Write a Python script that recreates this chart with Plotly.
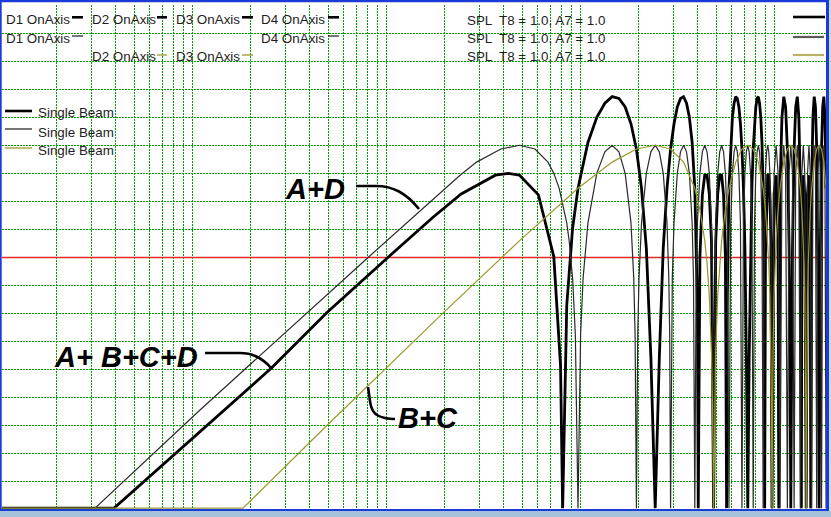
import math
import plotly.graph_objects as go

# ---------------- data (frequency in Hz, level in dB) ----------------
GRID_FREQ = [10, 15, 20, 25, 30, 35, 40, 45, 50,
             100, 150, 200, 250, 300, 350, 400, 450, 500,
             1000, 1500, 2000, 2500, 3000, 3500, 4000, 4500, 5000,
             10000, 15000, 20000, 25000, 30000, 35000, 40000, 45000, 50000]
GRID_DB = [54, 57, 60, 63, 66, 69, 72, 75, 78, 81, 84, 87, 90, 93, 96, 99, 102]
F_RANGE = [5.207, 92050]
DB_RANGE = [51, 105]
REF_DB = 78

# A+B+C+D (thick black)
THICK_F = [5.2, 19.7, 127.9, 245.7, 501.0, 867.7, 1212.5, 1818.8, 2121.9, 2425.0,
           3031.3, 3637.5, 3940.6, 4041.7, 4243.8, 4546.9, 4850.0,
           5456.3, 6062.5, 6668.8, 7275.0, 7881.3, 8487.5, 9093.8, 9700.0, 10306.3, 10912.5,
           11518.8, 12125.0, 12731.3, 13337.5, 13943.8, 14550.0, 15156.3, 15762.5, 16368.8,
           16975.0, 17581.3, 18187.5, 18793.8, 19400.0, 20006.3, 20208.3, 20612.5, 21218.8,
           21825.0, 22431.3, 23037.5, 23643.8, 24250.0, 24856.3, 25462.5, 26068.8, 26675.0,
           27281.3, 27887.5, 28291.7, 28493.8, 29100.0, 29706.3, 30312.5, 30918.8, 31525.0,
           32131.3, 32737.5, 33343.8, 33950.0, 34556.3, 35162.5, 35768.8, 36375.0, 36981.3,
           37587.5, 38193.8, 38800.0, 39406.3, 40012.5, 40618.8, 41225.0, 41831.3, 42437.5,
           43043.8, 43650.0, 44256.3, 44458.3, 44862.5, 45468.8, 46075.0, 46681.3, 47287.5,
           47893.8, 48500.0,
           49712.5, 50925.0, 52137.5, 52541.7, 53350.0, 54562.5, 55775.0, 56987.5, 58200.0,
           59412.5, 60018.8, 60625.0, 61231.3, 61837.5, 63050.0, 64262.5, 65475.0, 66687.5,
           67900.0, 68708.3, 69112.5, 70325.0, 71537.5, 72750.0, 73962.5, 75175.0, 76387.5,
           76791.7, 77600.0, 78812.5, 80025.0, 81237.5, 82450.0, 83662.5, 84268.8, 84875.0,
           85481.3, 86087.5, 87300.0, 88512.5, 89725.0, 90937.5, 92150.0]
THICK_DB = [51.2, 51.2, 66.2, 72.1, 77.9, 82.3, 84.8, 86.8, 87.0, 86.8,
            84.7, 78.1, 66.5, 51.2, 72.9, 81.1, 85.4,
            90.3, 93.0, 94.5, 95.2, 95.0, 94.1, 92.3, 89.6, 85.4, 79.0,
            67.3, 51.2, 67.3, 79.0, 85.4, 89.6, 92.3, 94.1, 95.0,
            95.2, 94.5, 93.0, 90.3, 85.4, 72.9, 51.2, 78.1, 84.7,
            86.8, 86.8, 84.8, 79.7, 51.2, 79.7, 84.8, 86.8, 86.8,
            84.7, 78.1, 51.2, 72.9, 85.4, 90.3, 93.0, 94.5, 95.2,
            95.0, 94.1, 92.3, 89.6, 85.4, 79.0, 67.3, 51.2, 67.3,
            79.0, 85.4, 89.6, 92.3, 94.1, 95.0, 95.2, 94.5, 93.0,
            90.3, 85.4, 72.9, 51.2, 78.1, 84.7, 86.8, 86.8, 84.8,
            79.7, 51.2,
            84.8, 86.8, 78.1, 51.2, 85.4, 93.0, 95.2, 94.1, 89.6,
            79.0, 67.3, 51.2, 67.3, 79.0, 89.6, 94.1, 95.2, 93.0,
            85.4, 51.2, 78.1, 86.8, 84.8, 51.2, 84.8, 86.8, 78.1,
            51.2, 85.4, 93.0, 95.2, 94.1, 89.6, 79.0, 67.3, 51.2,
            67.3, 79.0, 89.6, 94.1, 95.2, 93.0, 85.4]

# A+D (thin black)
THIN_F = [5.2, 15.7, 54.6, 396.3, 1195.5, 1455.0, 1940.0, 2425.0, 2910.0, 3395.0, 3637.5,
          3880.0, 4243.8, 4365.0, 4546.9, 4698.4, 4850.0,
          5001.6, 5153.1, 5456.3, 6062.5, 6668.8, 7275.0, 7881.3, 8487.5, 9093.8, 9396.9, 9548.4, 9700.0,
          9851.6, 10003.1, 10306.3, 10912.5, 11518.8, 12125.0, 12731.3, 13337.5, 13943.8, 14246.9, 14398.4, 14550.0,
          14853.1, 15156.3, 15762.5, 16368.8, 16975.0, 17581.3, 18187.5, 18793.8, 19096.9, 19400.0,
          19703.1, 20006.3, 20612.5, 21218.8, 21825.0, 22431.3, 23037.5, 23643.8, 23946.9, 24250.0,
          24856.3, 25462.5, 26068.8, 26675.0, 27281.3, 27887.5, 28493.8, 29100.0,
          29706.3, 30312.5, 30918.8, 31525.0, 32131.3, 32737.5, 33343.8, 33950.0,
          34556.3, 35162.5, 35768.8, 36375.0, 36981.3, 37587.5, 38193.8, 38800.0,
          39406.3, 40012.5, 40618.8, 41225.0, 41831.3, 42437.5, 43043.8, 43650.0,
          44256.3, 44862.5, 45468.8, 46075.0, 46681.3, 47287.5, 47893.8, 48500.0,
          49712.5, 50925.0, 52137.5, 53350.0,
          54562.5, 55775.0, 56987.5, 58200.0,
          59412.5, 60625.0, 61837.5, 63050.0,
          64262.5, 65475.0, 66687.5, 67900.0,
          69112.5, 70325.0, 71537.5, 72750.0,
          73962.5, 75175.0, 76387.5, 77600.0,
          78812.5, 80025.0, 81237.5, 82450.0,
          83662.5, 84875.0, 86087.5, 87300.0,
          88512.5, 89725.0, 90937.5, 92150.0]
THIN_DB = [51.2, 51.2, 61.7, 77.9, 86.8, 88.2, 89.6, 90.0, 89.6, 88.2, 87.0,
           85.4, 81.7, 79.8, 75.8, 69.8, 51.2,
           69.8, 75.8, 81.7, 87.0, 89.3, 90.0, 89.3, 87.0, 81.7, 75.8, 69.8, 51.2,
           69.8, 75.8, 81.7, 87.0, 89.3, 90.0, 89.3, 87.0, 81.7, 75.8, 69.8, 51.2,
           75.8, 81.7, 87.0, 89.3, 90.0, 89.3, 87.0, 81.7, 75.8, 51.2,
           75.8, 81.7, 87.0, 89.3, 90.0, 89.3, 87.0, 81.7, 75.8, 51.2,
           81.7, 87.0, 89.3, 90.0, 89.3, 87.0, 81.7, 51.2,
           81.7, 87.0, 89.3, 90.0, 89.3, 87.0, 81.7, 51.2,
           81.7, 87.0, 89.3, 90.0, 89.3, 87.0, 81.7, 51.2,
           81.7, 87.0, 89.3, 90.0, 89.3, 87.0, 81.7, 51.2,
           81.7, 87.0, 89.3, 90.0, 89.3, 87.0, 81.7, 51.2,
           87.0, 90.0, 87.0, 51.2,
           87.0, 90.0, 87.0, 51.2,
           87.0, 90.0, 87.0, 51.2,
           87.0, 90.0, 87.0, 51.2,
           87.0, 90.0, 87.0, 51.2,
           87.0, 90.0, 87.0, 51.2,
           87.0, 90.0, 87.0, 51.2,
           87.0, 90.0, 87.0, 51.2,
           87.0, 90.0, 87.0, 51.2]

# B+C (olive)
OLIVE_F = [5.2, 91.0, 242.5, 485.0, 970.0, 2425.0, 4850.0, 7275.0, 9700.0, 12125.0, 14550.0,
           16975.0, 19400.0, 20612.5, 21825.0, 22431.3, 23037.5, 23643.8, 23946.9, 24250.0,
           24553.1, 24856.3, 25462.5, 26068.8, 26675.0, 27887.5, 29100.0, 31525.0, 33950.0,
           36375.0, 38800.0, 41225.0, 43650.0, 44862.5, 46075.0, 46681.3, 47287.5, 47893.8,
           48196.9, 48500.0, 48803.1, 49106.3, 49712.5, 50318.8, 50925.0, 52137.5, 53350.0,
           55775.0, 58200.0, 60625.0, 63050.0, 65475.0, 67900.0, 69112.5, 70325.0, 70931.3,
           71537.5, 72143.8, 72446.9, 72750.0, 73053.1, 73356.3, 73962.5, 74568.8, 75175.0,
           76387.5, 77600.0, 80025.0, 82450.0, 84875.0, 87300.0, 89725.0, 92150.0]
OLIVE_DB = [51.2, 51.2, 59.9, 66.0, 72.0, 79.8, 85.4, 88.2, 89.6, 90.0, 89.6,
            88.2, 85.4, 83.1, 79.8, 77.4, 73.9, 67.9, 61.9, 51.2,
            61.9, 67.9, 73.9, 77.4, 79.8, 83.1, 85.4, 88.2, 89.6,
            90.0, 89.6, 88.2, 85.4, 83.1, 79.8, 77.4, 73.9, 67.9,
            61.9, 51.2, 61.9, 67.9, 73.9, 77.4, 79.8, 83.1, 85.4,
            88.2, 89.6, 90.0, 89.6, 88.2, 85.4, 83.1, 79.8, 77.4,
            73.9, 67.9, 61.9, 51.2, 61.9, 67.9, 73.9, 77.4, 79.8,
            83.1, 85.4, 88.2, 89.6, 90.0, 89.6, 88.2, 85.4]

LEGEND_TOP_ROWS = [["D1 OnAxis", "D2 OnAxis", "D3 OnAxis", "D4 OnAxis"],
                   ["D1 OnAxis", "D4 OnAxis"],
                   ["D2 OnAxis", "D3 OnAxis"]]
SPL_TEXT = "SPL  T8 = 1.0, A7 = 1.0"
BEAM_TEXT = "Single Beam"
CURVE_LABELS = ["A+D", "A+ B+C+D", "B+C"]

# ---------------- styles ----------------
THICK_C = "#000000"
THIN_C = "#2a2a2a"
OLIVE_C = "#9c982c"
GRID_C = "#00a000"
GRID_DASH = "2px,1px"
RED_C = "#e02a2a"
BLUE_C = "#1c3ad8"
BAND_C = "#a4c2d8"
TXT_C = "#1e1e1e"
FONT = "Liberation Sans"
TXT_SIZE = 13.4

fig = go.Figure()
fig.add_trace(go.Scatter(x=F_RANGE, y=[REF_DB, REF_DB], mode="lines",
                         line=dict(color=RED_C, width=1.3), hoverinfo="skip"))
fig.add_trace(go.Scatter(x=THICK_F, y=THICK_DB, mode="lines",
                         line=dict(color=THICK_C, width=2.8), hoverinfo="skip"))
fig.add_trace(go.Scatter(x=THIN_F, y=THIN_DB, mode="lines",
                         line=dict(color=THIN_C, width=1.2), hoverinfo="skip"))
fig.add_trace(go.Scatter(x=OLIVE_F, y=OLIVE_DB, mode="lines",
                         line=dict(color=OLIVE_C, width=1.2), hoverinfo="skip"))

# plot-area pixel frame -> paper coordinates
PL, PT, PR, PB = 2, 5, 826, 510
PW, PH = PR - PL, PB - PT
LX0, LX1 = math.log10(F_RANGE[0]), math.log10(F_RANGE[1])


def px(x):
    return (x - PL) / PW


def py(y):
    return (PB - y) / PH


shapes = []
annotations = []

# dotted grid, snapped to pixel centres so the dots stay crisp
for f in GRID_FREQ:
    xpix = PL + PW * (math.log10(f) - LX0) / (LX1 - LX0)
    xc = math.floor(xpix) + 0.5
    shapes.append(dict(type="line", xref="paper", yref="paper", x0=px(xc), x1=px(xc),
                       y0=1, y1=0, line=dict(color=GRID_C, width=1, dash=GRID_DASH), layer="below"))
for v in GRID_DB:
    ypix = PB - PH * (v - DB_RANGE[0]) / (DB_RANGE[1] - DB_RANGE[0])
    yc = math.floor(ypix) + 0.5
    shapes.append(dict(type="line", xref="paper", yref="paper", x0=0, x1=1,
                       y0=py(yc), y1=py(yc), line=dict(color=GRID_C, width=1, dash=GRID_DASH), layer="below"))


def rect(x0, y0, x1, y1, color):
    shapes.append(dict(type="rect", xref="paper", yref="paper", x0=px(x0), x1=px(x1),
                       y0=py(y1), y1=py(y0), fillcolor=color, line=dict(width=0), layer="above"))


def seg(x0, x1, y, color, w):
    shapes.append(dict(type="line", xref="paper", yref="paper", x0=px(x0), x1=px(x1),
                       y0=py(y), y1=py(y), line=dict(color=color, width=w), layer="above"))


def leader(cmds, w=2.6):
    s = ""
    for c in cmds:
        letter, pts = c[0], c[1:]
        coords = " ".join(f"{px(pts[i]):.5f},{py(pts[i + 1]):.5f}" for i in range(0, len(pts), 2))
        s += f"{letter}{coords} "
    shapes.append(dict(type="path", xref="paper", yref="paper", path=s.strip(),
                       line=dict(color="black", width=w), fillcolor="rgba(0,0,0,0)", layer="above"))


def text(s, x, y, size=TXT_SIZE, xanchor="left", big=False):
    font = dict(family=FONT, size=size, color=TXT_C)
    if big:
        font = dict(family=FONT, size=size, color="black", weight="bold", style="italic")
    annotations.append(dict(text=s, x=px(x), y=py(y), xref="paper", yref="paper",
                            xanchor=xanchor, yanchor="middle", showarrow=False,
                            font=font, borderpad=0, borderwidth=0))


# top-left legend block
row_y = [19.5, 38.5, 57]
pos = {"D1 OnAxis": 6, "D2 OnAxis": 92, "D3 OnAxis": 176, "D4 OnAxis": 261}
for r, labels in enumerate(LEGEND_TOP_ROWS):
    for lab in labels:
        text(lab, pos[lab], row_y[r])
sample = {"D1 OnAxis": (72, 83), "D2 OnAxis": (157, 167), "D3 OnAxis": (242, 253), "D4 OnAxis": (328, 339)}
for lab in LEGEND_TOP_ROWS[0]:
    seg(*sample[lab], 17.3, THICK_C, 2.6)
for lab in LEGEND_TOP_ROWS[1]:
    seg(*sample[lab], 36, THIN_C, 1.3)
for lab in LEGEND_TOP_ROWS[2]:
    seg(*sample[lab], 55, OLIVE_C, 1.3)

# top-right legend block
for yy in [20, 38.5, 56.5]:
    text(SPL_TEXT, 467, yy)
seg(793, 825, 17, THICK_C, 2.6)
seg(793, 824, 37, "#5a5a5a", 2.2)
seg(793, 824, 55, "#b8b262", 2.2)

# left legend block
for yy in [113, 132, 150.5]:
    text(BEAM_TEXT, 38, yy)
seg(5, 32, 111, THICK_C, 2.6)
seg(5, 32, 129, THIN_C, 1.3)
seg(5, 32, 148, OLIVE_C, 1.3)

# curve labels with leaders
text(CURVE_LABELS[0], 315, 189, size=29, xanchor="center", big=True)
text(CURVE_LABELS[1], 126, 357, size=29, xanchor="center", big=True)
text(CURVE_LABELS[2], 428, 418, size=29, xanchor="center", big=True)
leader([("M", 356, 186), ("L", 376, 186), ("C", 393, 186, 406, 193, 419, 209)])
leader([("M", 205, 353), ("L", 240, 353), ("C", 252, 353, 263, 358, 272, 369)])
leader([("M", 368, 387), ("C", 370, 397, 369, 410, 377, 415), ("C", 382, 418, 388, 419, 395, 419)])

# window frame
rect(0, 0, 1.7, 511, BLUE_C)
rect(0, 0, 829, 2.2, BLUE_C)
rect(826, 0, 829, 511, BLUE_C)
rect(0, 509, 829, 511, BLUE_C)
rect(829, 0, 831, 511, "#c9d9e8")
rect(0, 511, 831, 517, BAND_C)

fig.update_layout(
    width=831, height=517,
    margin=dict(l=PL, r=831 - PR, t=PT, b=517 - PB, pad=0),
    paper_bgcolor="white", plot_bgcolor="white",
    showlegend=False, hovermode=False,
    xaxis=dict(type="log", range=[LX0, LX1], showticklabels=False, ticks="",
               showgrid=False, zeroline=False, showline=False, fixedrange=True),
    yaxis=dict(range=DB_RANGE, showticklabels=False, ticks="",
               showgrid=False, zeroline=False, showline=False, fixedrange=True),
    shapes=shapes, annotations=annotations,
)

fig.write_html("out.html", config={"displayModeBar": False},
               post_script="document.body.style.margin='0';document.body.style.overflow='hidden';")
